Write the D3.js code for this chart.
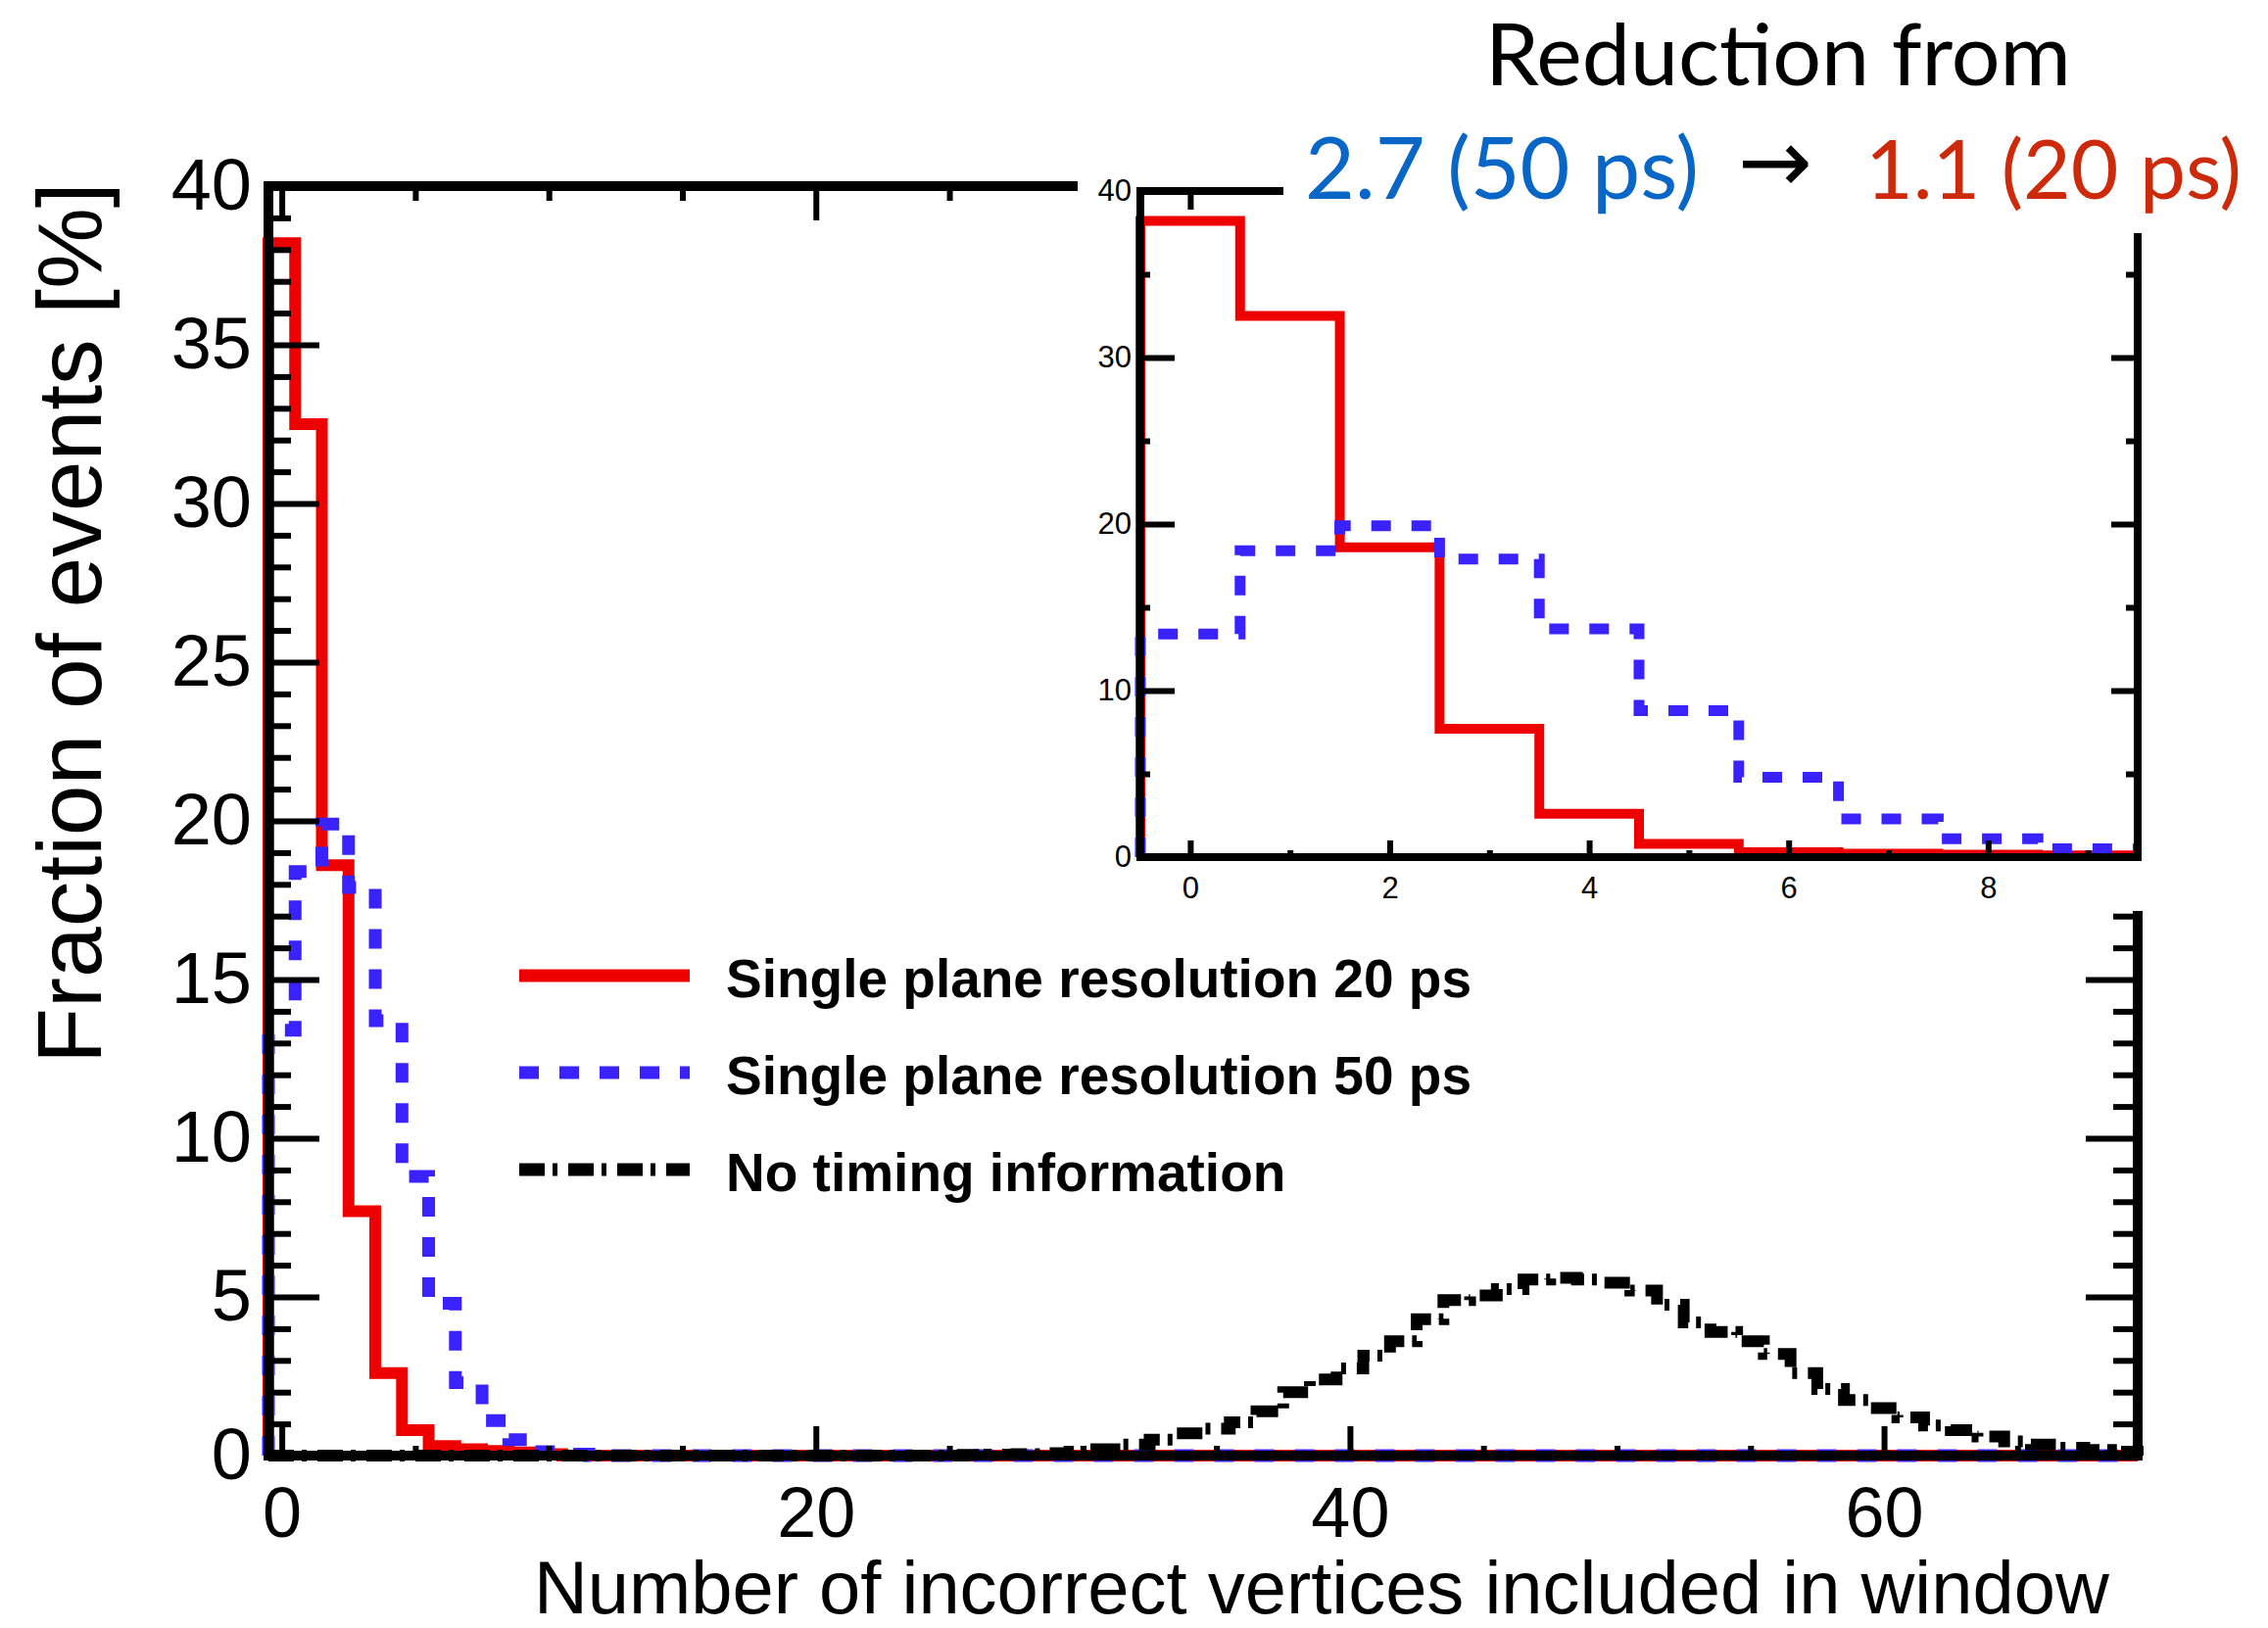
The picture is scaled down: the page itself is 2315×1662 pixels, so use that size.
<!DOCTYPE html>
<html>
<head>
<meta charset="utf-8">
<script src="https://cdn.jsdelivr.net/npm/d3@7"></script>
<style>
  body { margin: 0; background: #fff; }
  svg { display: block; }
  .tick text { font-family: "Liberation Sans", Arial, sans-serif; fill: #000; }
</style>
</head>
<body>
<div id="chart"></div>
<script>

// bin contents, one value per integer bin (bin i spans i-0.5 .. i+0.5)
let res20ps = [38.2, 32.5, 18.6, 7.7, 2.6, 0.8, 0.3, 0.2, 0.15, 0.1, 0.05];
let res50ps = [13.4, 18.4, 19.9, 17.9, 13.7, 8.8, 4.8, 2.3, 1.1, 0.5, 0.12, 0.05];
let noTiming = [
  0, 0, 0, 0, 0, 0, 0, 0, 0, 0,
  0, 0, 0, 0, 0, 0, 0, 0, 0, 0,
  0, 0, 0, 0, 0, 0, 0.02, 0.03, 0.05, 0.08,
  0.12, 0.2, 0.35, 0.5, 0.7, 0.85, 1.05, 1.4, 2.0, 2.4,
  2.75, 3.15, 3.6, 4.3, 4.9, 5.05, 5.25, 5.55, 5.6, 5.55,
  5.45, 5.2, 4.75, 4.2, 3.9, 3.6, 3.2, 2.6, 2.1, 1.75,
  1.5, 1.2, 0.95, 0.8, 0.6, 0.45, 0.35, 0.25, 0.18, 0.12
];

let xMajor = [0, 20, 40, 60];
let xMinor = [5, 10, 15, 25, 30, 35, 45, 50, 55, 65];
let yMajor = [0, 5, 10, 15, 20, 25, 30, 35, 40];
let yMinor = d3.range(0, 41).filter(d => d % 5 !== 0);

let insetXMajor = [0, 2, 4, 6, 8];
let insetXMinor = [1, 3, 5, 7, 9];
let insetYMajor = [0, 10, 20, 30, 40];
let insetYMinor = [5, 15, 25, 35];

let legendLabels = ["Single plane resolution 20 ps", "Single plane resolution 50 ps", "No timing information"];

let svgWidth = 2315;
let svgHeight = 1662;

let red = "#ee0000";
let blue = "#3a22ff";
let black = "#000";

let svg = d3.select("#chart")
    .append("svg")
    .attr("width", svgWidth)
    .attr("height", svgHeight);

// shrink/grow a text's font so its natural width matches the picture
function fitWidth(sel, target) {
    let fs = +sel.attr("font-size");
    let w = sel.node().getComputedTextLength();
    sel.attr("font-size", fs * target / w);
    return sel;
}

// ---------- main plot ----------
let x = d3.scaleLinear().domain([-0.5, 69.5]).range([274, 2182]);
let y = d3.scaleLinear().domain([0, 40]).range([1486, 190]);

function stepPoints(vals, n, drop) {
    let pts = [[-0.5, 0]];
    for (let i = 0; i < n; i++) {
        pts.push([i - 0.5, vals[i] || 0]);
    }
    pts.push([n - 0.5, vals[n - 1] || 0]);
    if (drop) pts.push([n - 0.5, 0]);
    return pts;
}

let mainLine = d3.line()
    .x(d => x(d[0]))
    .y(d => y(d[1]))
    .curve(d3.curveStepAfter);

let main = svg.append("g");

let series = [
    { vals: res20ps, color: red, dash: null, width: 12 },
    { vals: res50ps, color: blue, dash: "20,21", width: 13 },
    { vals: noTiming, color: black, dash: "26,8,5,11", width: 12 }
];

series.forEach(s => {
    main.append("path")
        .attr("d", mainLine(stepPoints(s.vals, 70, true)))
        .attr("fill", "none")
        .attr("stroke", s.color)
        .attr("stroke-width", s.width)
        .attr("stroke-dasharray", s.dash);
});

function strip(g) { g.select(".domain").remove(); }

function ticks(axis, tr, size, values, labels, pad, fontSize) {
    let g = main.append("g")
        .attr("transform", tr)
        .call(axis.tickValues(values).tickSize(-size).tickPadding(pad)
            .tickFormat(labels ? d3.format("d") : () => ""))
        .call(strip);
    g.selectAll("line").attr("stroke", black).attr("stroke-width", 6);
    g.selectAll("text").attr("font-size", fontSize);
    return g;
}

// left
ticks(d3.axisLeft(y), `translate(${x(-0.5)},0)`, 52, yMajor, true, 17, 74);
ticks(d3.axisLeft(y), `translate(${x(-0.5)},0)`, 23, yMinor, false, 0, 0);
// right
ticks(d3.axisRight(y), `translate(${x(69.5)},0)`, 53, yMajor, false, 0, 0);
ticks(d3.axisRight(y), `translate(${x(69.5)},0)`, 25, yMinor, false, 0, 0);
// bottom
ticks(d3.axisBottom(x), `translate(0,${y(0)})`, 30, xMajor, true, 32, 72);
ticks(d3.axisBottom(x), `translate(0,${y(0)})`, 10, xMinor, false, 0, 0);
// top
ticks(d3.axisTop(x), `translate(0,${y(40)})`, 35, xMajor, false, 0, 0);
ticks(d3.axisTop(x), `translate(0,${y(40)})`, 15, xMinor, false, 0, 0);

main.append("rect")
    .attr("x", x(-0.5))
    .attr("y", y(40))
    .attr("width", x(69.5) - x(-0.5))
    .attr("height", y(0) - y(40))
    .attr("fill", "none")
    .attr("stroke", black)
    .attr("stroke-width", 10);

// axis titles
svg.append("text")
    .attr("transform", "translate(103,636) rotate(-90)")
    .attr("text-anchor", "middle")
    .attr("font-family", "Liberation Sans, Arial, sans-serif")
    .attr("font-size", 93)
    .text("Fraction of events [%]");

let xTitle = svg.append("text")
    .attr("x", 545)
    .attr("y", 1647)
    .attr("font-family", "Liberation Sans, Arial, sans-serif")
    .attr("font-size", 76)
    .text("Number of incorrect vertices included in window");
fitWidth(xTitle, 1608);

// legend
let legend = svg.append("g");
let legendY = [996, 1095, 1194];
series.forEach((s, i) => {
    legend.append("line")
        .attr("x1", 530).attr("x2", 704)
        .attr("y1", legendY[i]).attr("y2", legendY[i])
        .attr("stroke", s.color)
        .attr("stroke-width", 13)
        .attr("stroke-dasharray", s.dash);
    legend.append("text")
        .attr("x", 741)
        .attr("y", legendY[i] + 22)
        .attr("font-family", "Liberation Sans, Arial, sans-serif")
        .attr("font-weight", "bold")
        .attr("font-size", 55)
        .text(legendLabels[i]);
});

// ---------- inset ----------
let ix = d3.scaleLinear().domain([-0.5, 9.5]).range([1164, 2182]);
let iy = d3.scaleLinear().domain([0, 40]).range([875, 195]);

svg.append("rect")
    .attr("x", 1100).attr("y", 150)
    .attr("width", svgWidth - 1100).attr("height", 780)
    .attr("fill", "#fff");

let inset = svg.append("g");

let insetLine = d3.line()
    .x(d => ix(d[0]))
    .y(d => iy(d[1]))
    .curve(d3.curveStepAfter);

series.slice(0, 2).forEach(s => {
    inset.append("path")
        .attr("d", insetLine(stepPoints(s.vals, 10, false)))
        .attr("fill", "none")
        .attr("stroke", s.color)
        .attr("stroke-width", s.width - 2)
        .attr("stroke-dasharray", s.dash);
});

function iticks(axis, tr, size, values, labels, pad) {
    let g = inset.append("g")
        .attr("transform", tr)
        .call(axis.tickValues(values).tickSize(-size).tickPadding(pad)
            .tickFormat(labels ? d3.format("d") : () => ""))
        .call(strip);
    g.selectAll("line").attr("stroke", black).attr("stroke-width", 6);
    g.selectAll("text").attr("font-size", 31);
    return g;
}

iticks(d3.axisLeft(iy), `translate(${ix(-0.5)},0)`, 35, insetYMajor, true, 9);
iticks(d3.axisLeft(iy), `translate(${ix(-0.5)},0)`, 10, insetYMinor, false, 0);
iticks(d3.axisRight(iy), `translate(${ix(9.5)},0)`, 27, insetYMajor, false, 0);
iticks(d3.axisRight(iy), `translate(${ix(9.5)},0)`, 12, insetYMinor, false, 0);
iticks(d3.axisBottom(ix), `translate(0,${iy(0)})`, 17, insetXMajor, true, 20);
iticks(d3.axisBottom(ix), `translate(0,${iy(0)})`, 7, insetXMinor, false, 0);
iticks(d3.axisTop(ix), `translate(0,${iy(40)})`, 19, insetXMajor, false, 0);
iticks(d3.axisTop(ix), `translate(0,${iy(40)})`, 8, insetXMinor, false, 0);

inset.append("rect")
    .attr("x", ix(-0.5))
    .attr("y", iy(40))
    .attr("width", ix(9.5) - ix(-0.5))
    .attr("height", iy(0) - iy(40))
    .attr("fill", "none")
    .attr("stroke", black)
    .attr("stroke-width", 8);

// ---------- annotation ----------
svg.append("rect")
    .attr("x", 1310).attr("y", 0)
    .attr("width", svgWidth - 1310).attr("height", 238)
    .attr("fill", "#fff");

let note = svg.append("g")
    .attr("font-family", "Lato, 'Open Sans', sans-serif");

fitWidth(note.append("text")
    .attr("x", 1516).attr("y", 87)
    .attr("font-size", 78)
    .text("Reduction from"), 598);

fitWidth(note.append("text")
    .attr("x", 1332).attr("y", 203)
    .attr("font-size", 92)
    .attr("fill", "#0866c6")
    .text("2.7 (50 ps)"), 402);

fitWidth(note.append("text")
    .attr("x", 1774).attr("y", 196)
    .attr("font-size", 80)
    .attr("font-family", "DejaVu Sans, sans-serif")
    .text("→"), 76);

fitWidth(note.append("text")
    .attr("x", 1904).attr("y", 203)
    .attr("font-size", 92)
    .attr("fill", "#cc2a0a")
    .text("1.1 (20 ps)"), 384);

</script>
</body>
</html>
